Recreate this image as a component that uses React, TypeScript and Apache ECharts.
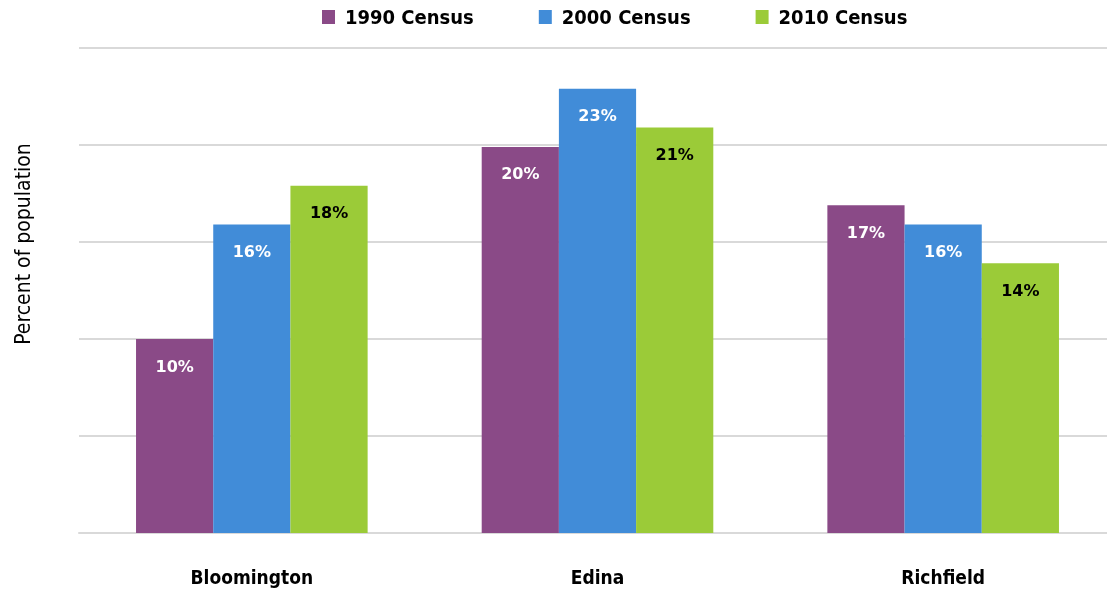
import React, { useEffect, useRef } from "react";
import * as echarts from "echarts";

const categories = ["Bloomington", "Edina", "Richfield"];
const seriesNames = ["1990 Census", "2000 Census", "2010 Census"];
const census1990 = [10.0, 19.9, 16.9];
const census2000 = [15.9, 22.9, 15.9];
const census2010 = [17.9, 20.9, 13.9];
const colors = ["#8A4A87", "#418CD8", "#9BCB38"];
const labelColors = ["#ffffff", "#ffffff", "#000000"];
const yAxisTitle = "Percent of population";

const FONT = "'DejaVu Sans Condensed', 'Liberation Sans Narrow', sans-serif";

export default function App() {
  const ref = useRef<HTMLDivElement>(null);
  useEffect(() => {
    if (!ref.current) return;
    const chart = echarts.init(ref.current, undefined, { renderer: "svg" });
    const data = [census1990, census2000, census2010];
    chart.setOption({
      animation: false,
      legend: {
        top: 2,
        left: 317,
        itemWidth: 13,
        itemHeight: 14,
        itemGap: 65,
        icon: "rect",
        textStyle: {
          fontFamily: FONT,
          fontSize: 20,
          color: "#000",
          fontWeight: "bold",
          padding: [0, 0, 0, 5],
        },
        data: seriesNames,
      },
      graphic: [
        {
          type: "text",
          x: 23,
          y: 244,
          rotation: Math.PI / 2,
          style: {
            text: yAxisTitle,
            align: "center",
            verticalAlign: "middle",
            fontFamily: FONT,
            fontSize: 21,
            fill: "#000",
          },
        },
      ],
      grid: { left: 79, right: 0, top: 48, bottom: 57, containLabel: false },
      xAxis: {
        type: "category",
        data: categories,
        axisLine: { show: true, lineStyle: { color: "#d9d9d9", width: 2 } },
        axisTick: { show: false },
        axisLabel: { margin: 34, fontFamily: FONT, fontSize: 19, fontWeight: "bold", color: "#000" },
      },
      yAxis: {
        type: "value",
        min: 0,
        max: 25,
        interval: 5,
        axisLabel: { show: false },
        axisLine: { show: false },
        axisTick: { show: false },
        splitLine: { lineStyle: { color: "#d9d9d9", width: 2 } },
      },
      series: seriesNames.map((name, i) => ({
        name,
        type: "bar",
        data: data[i],
        barGap: "0%",
        barCategoryGap: "33%",
        itemStyle: { color: colors[i] },
        label: {
          show: true,
          position: "insideTop",
          distance: 19,
          formatter: (p: any) => Math.round(p.value) + "%",
          color: labelColors[i],
          fontFamily: "'DejaVu Sans', sans-serif",
          fontWeight: "bold",
          fontSize: 16,
        },
      })),
    });
    return () => chart.dispose();
  }, []);
  return <div ref={ref} style={{ position: "fixed", left: 0, top: 0, width: 1116, height: 590 }} />;
}
